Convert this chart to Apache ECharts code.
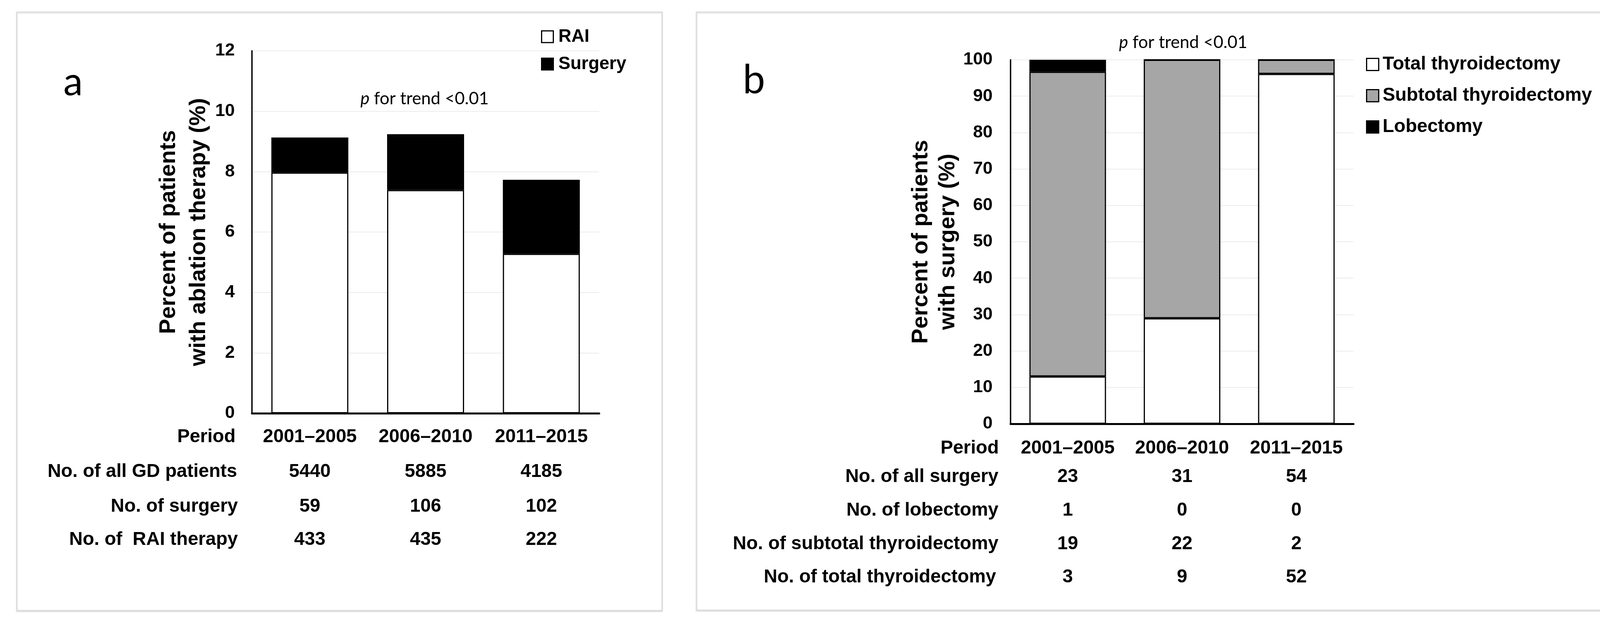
<!DOCTYPE html>
<html>
<head>
<meta charset="utf-8">
<script src="https://cdn.jsdelivr.net/npm/echarts@6/dist/echarts.min.js"></script>
<style>
html,body{margin:0;padding:0;background:#fff;}
#c{width:4184px;height:1600px;}
</style>
</head>
<body>
<div id="c"></div>
<script>
// ---- data ----
const periods = ['2001\u20132005', '2006\u20132010', '2011\u20132015'];
// panel a: percent of all GD patients
const raiPct = [7.97, 7.39, 5.28];
const surgeryPct = [1.16, 1.85, 2.45];
const nAllGD = ['5440', '5885', '4185'];
const nSurgeryA = ['59', '106', '102'];
const nRAI = ['433', '435', '222'];
const rowLabelsA = ['Period', 'No. of all GD patients', 'No. of surgery', 'No. of  RAI therapy'];
// panel b: percent of patients with surgery
const totalPct = [13.0, 29.0, 96.1];
const subtotalPct = [83.7, 71.0, 3.9];
const lobectomyPct = [3.3, 0, 0];
const nAllSurgery = ['23', '31', '54'];
const nLobectomy = ['1', '0', '0'];
const nSubtotal = ['19', '22', '2'];
const nTotal = ['3', '9', '52'];
const rowLabelsB = ['Period', 'No. of all surgery', 'No. of lobectomy', 'No. of subtotal thyroidectomy', 'No. of total thyroidectomy'];
const yTicksA = {min: 0, max: 12, interval: 2};
const yTicksB = {min: 0, max: 100, interval: 10};

// ---- styling ----
const F = "'Liberation Sans', Arial, sans-serif";
const FC = "Lato, 'Open Sans', sans-serif";
const boldText = {fontFamily: F, fontWeight: 'bold', fontSize: 48, color: '#000'};

function rowAxis(gridIndex, data, name, offset, gap) {
  return {
    type: 'category', gridIndex: gridIndex, position: 'bottom', offset: offset,
    data: data, name: name, nameLocation: 'start', nameGap: gap,
    nameTextStyle: Object.assign({align: 'right', verticalAlign: 'middle'}, boldText),
    axisLine: {show: false}, axisTick: {show: false}, splitLine: {show: false},
    axisLabel: Object.assign({margin: 0, verticalAlign: 'middle', interval: 0}, boldText)
  };
}
function mainX(gridIndex) {
  return {
    type: 'category', gridIndex: gridIndex, data: periods,
    axisLine: {show: true, lineStyle: {color: '#000', width: 5}},
    axisTick: {show: false}, axisLabel: {show: false}, splitLine: {show: false}
  };
}
function mainY(gridIndex, t, name, gap, lh, margin) {
  return {
    type: 'value', gridIndex: gridIndex, min: t.min, max: t.max, interval: t.interval,
    name: name, nameLocation: 'middle', nameRotate: 90, nameGap: gap,
    nameTextStyle: {fontFamily: F, fontWeight: 'bold', fontSize: 58, color: '#000', lineHeight: lh},
    axisLine: {show: true, lineStyle: {color: '#000', width: 3.5}},
    axisTick: {show: false},
    axisLabel: {fontFamily: F, fontWeight: 'bold', fontSize: 45, color: '#000', margin: margin},
    splitLine: {show: true, lineStyle: {color: '#ececec', width: 2}}
  };
}
const barBorder = {borderColor: '#000', borderWidth: 3};

const option = {
  backgroundColor: '#fff',
  animation: false,
  grid: [
    {left: 645, top: 130, width: 889, height: 928},
    {left: 2587, top: 153, width: 878, height: 932}
  ],
  xAxis: [
    mainX(0),
    rowAxis(0, periods, rowLabelsA[0], 61, 42),
    rowAxis(0, nAllGD, rowLabelsA[1], 150, 38),
    rowAxis(0, nSurgeryA, rowLabelsA[2], 239, 36),
    rowAxis(0, nRAI, rowLabelsA[3], 324, 36),
    mainX(1),
    rowAxis(1, periods, rowLabelsB[0], 63, 30),
    rowAxis(1, nAllSurgery, rowLabelsB[1], 136, 31),
    rowAxis(1, nLobectomy, rowLabelsB[2], 222, 31),
    rowAxis(1, nSubtotal, rowLabelsB[3], 308, 31),
    rowAxis(1, nTotal, rowLabelsB[4], 393, 37)
  ],
  yAxis: [
    mainY(0, yTicksA, 'Percent of patients\nwith ablation therapy (%)', 94, 77, 44),
    mainY(1, yTicksB, 'Percent of patients\nwith surgery (%)', 126, 69, 46)
  ],
  legend: [
    {
      data: ['RAI', 'Surgery'], orient: 'vertical', left: 1380, top: 65,
      itemWidth: 30, itemHeight: 30, itemGap: 22, icon: 'rect', selectedMode: false,
      itemStyle: {borderColor: '#000', borderWidth: 3},
      textStyle: {fontFamily: F, fontWeight: 'bold', fontSize: 46, color: '#000', lineHeight: 48, padding: [0, 0, 0, 8]}
    },
    {
      data: ['Total thyroidectomy', 'Subtotal thyroidectomy', 'Lobectomy'], orient: 'vertical', left: 3492, top: 136,
      itemWidth: 31, itemHeight: 31, itemGap: 32, icon: 'rect', selectedMode: false,
      itemStyle: {borderColor: '#000', borderWidth: 3},
      textStyle: {fontFamily: F, fontWeight: 'bold', fontSize: 48, color: '#000', lineHeight: 48, padding: [0, 0, 0, 5]}
    }
  ],
  series: [
    {name: 'RAI', type: 'bar', stack: 'a', xAxisIndex: 0, yAxisIndex: 0, barWidth: '66.5%', data: raiPct,
     itemStyle: Object.assign({color: '#fff'}, barBorder)},
    {name: 'Surgery', type: 'bar', stack: 'a', xAxisIndex: 0, yAxisIndex: 0, barWidth: '66.5%', data: surgeryPct,
     itemStyle: Object.assign({color: '#000'}, barBorder)},
    {name: 'Total thyroidectomy', type: 'bar', stack: 'b', xAxisIndex: 5, yAxisIndex: 1, barWidth: '67%', data: totalPct,
     itemStyle: Object.assign({color: '#fff'}, barBorder)},
    {name: 'Subtotal thyroidectomy', type: 'bar', stack: 'b', xAxisIndex: 5, yAxisIndex: 1, barWidth: '67%', data: subtotalPct,
     itemStyle: Object.assign({color: '#a6a6a6'}, barBorder)},
    {name: 'Lobectomy', type: 'bar', stack: 'b', xAxisIndex: 5, yAxisIndex: 1, barWidth: '67%', data: lobectomyPct,
     itemStyle: Object.assign({color: '#000'}, barBorder)}
  ],
  graphic: [
    {type: 'rect', shape: {x: 43, y: 31, width: 1652, height: 1532}, silent: true, z: -10,
     style: {fill: '#fff', stroke: '#dcdcdc', lineWidth: 3, shadowColor: 'rgba(0,0,0,0.12)', shadowBlur: 3, shadowOffsetY: 2}},
    {type: 'rect', shape: {x: 1783, y: 31, width: 2358, height: 1531}, silent: true, z: -10,
     style: {fill: '#fff', stroke: '#dcdcdc', lineWidth: 3, shadowColor: 'rgba(0,0,0,0.12)', shadowBlur: 3, shadowOffsetY: 2}},
    {type: 'text', x: 187, y: 212, silent: true,
     style: {text: 'a', fontFamily: FC, fontSize: 100, fill: '#000', align: 'center', verticalAlign: 'middle'}},
    {type: 'text', x: 1930, y: 206, silent: true,
     style: {text: 'b', fontFamily: FC, fontSize: 102, fill: '#000', align: 'center', verticalAlign: 'middle'}},
    {type: 'text', x: 1087, y: 253, silent: true,
     style: {text: '{i|p} for trend <0.01', fontFamily: FC, fontSize: 44, fill: '#000', align: 'center', verticalAlign: 'middle',
             rich: {i: {fontStyle: 'italic', fontFamily: FC, fontSize: 44, fill: '#000'}}}},
    {type: 'text', x: 3029, y: 109, silent: true,
     style: {text: '{i|p} for trend <0.01', fontFamily: FC, fontSize: 44, fill: '#000', align: 'center', verticalAlign: 'middle',
             rich: {i: {fontStyle: 'italic', fontFamily: FC, fontSize: 44, fill: '#000'}}}}
  ]
};
const chart = echarts.init(document.getElementById('c'), null, {renderer: 'canvas', width: 4184, height: 1600});
chart.setOption(option);
</script>
</body>
</html>
